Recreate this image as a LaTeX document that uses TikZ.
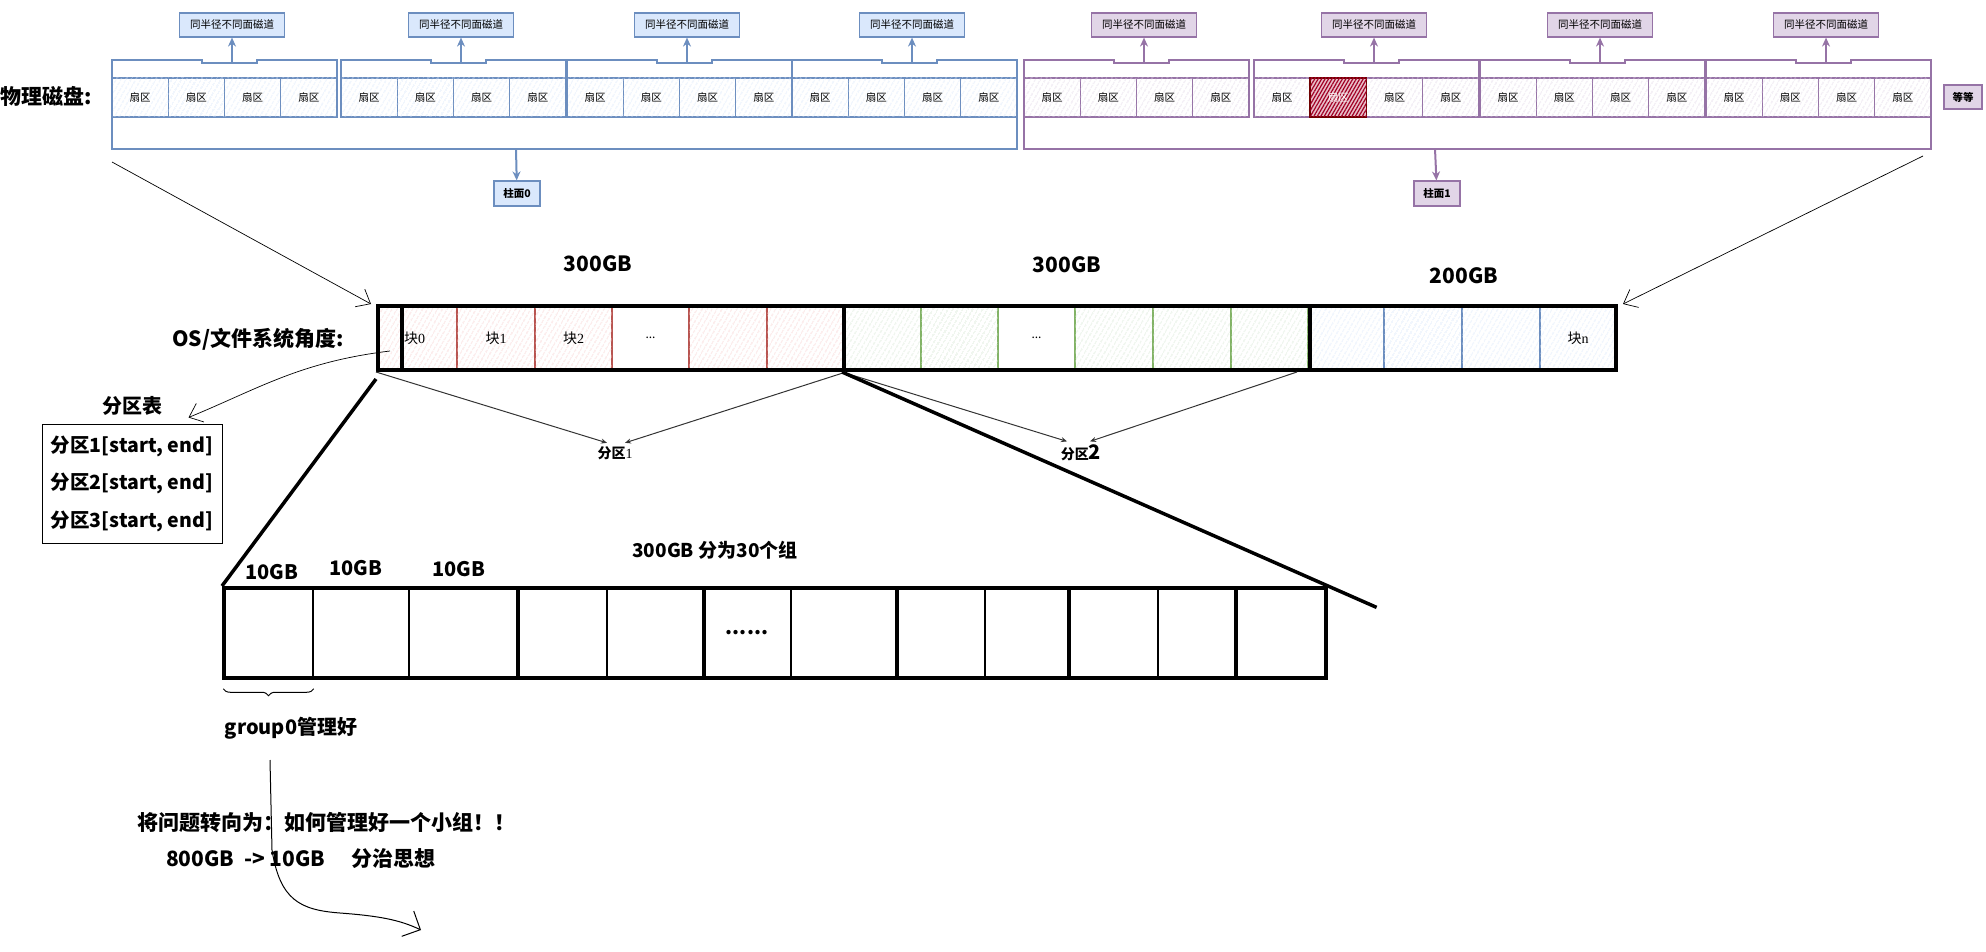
\documentclass[tikz,border=0pt]{standalone}
\usepackage{fontspec}
\setmainfont{Noto Sans CJK SC}
\newfontfamily\serifnum{Liberation Serif}
\usepackage{tikz}
\usetikzlibrary{positioning,arrows.meta,calc,patterns.meta,decorations.pathreplacing}

\definecolor{bluedraw}{HTML}{6C8EBF}
\definecolor{bluefill}{HTML}{DAE8FC}
\definecolor{purpdraw}{HTML}{9673A6}
\definecolor{purpfill}{HTML}{E1D5E7}
\definecolor{reddraw}{HTML}{B85450}
\definecolor{redfill}{HTML}{F8CECC}
\definecolor{grndraw}{HTML}{82B366}
\definecolor{grnfill}{HTML}{D5E8D4}
\definecolor{hotdraw}{HTML}{6F0000}
\definecolor{hotfill}{HTML}{A20025}

\newcommand\fsz[1]{\fontsize{#1}{#1}\selectfont}

\tikzset{
  hatch/.style={fill=white, postaction={pattern={Lines[angle=60,distance=4pt,line width=0.7pt]}, pattern color=#1}},
  sector/.style={draw=#1draw, line width=1.2pt, hatch=#1fill, minimum width=56.25pt,
                 minimum height=39pt, inner sep=0pt, font=\fsz{10.5}},
  hotsec/.style={draw=hotdraw, line width=1.6pt, fill=hotfill!25,
                 postaction={pattern={Lines[angle=60,distance=3pt,line width=1.2pt]}, pattern color=hotfill},
                 minimum width=56.25pt, minimum height=39pt, inner sep=0pt, font=\fsz{10.5}, text=white},
  bracket/.style={draw=#1draw, line width=1.5pt},
  tag/.style={draw=#1draw, fill=#1fill, line width=1.2pt, minimum height=24pt, inner sep=3pt, font=\fsz{10.5}},
  uparr/.style={draw=#1draw, line width=2pt, -{Stealth[length=9pt,width=8pt]}},
  cell/.style={draw=#1draw, line width=1.2pt, hatch=#1fill, minimum height=62pt, inner sep=0pt, font=\fsz{14}},
  pbox/.style={draw=black, line width=4pt, minimum height=64pt, inner sep=0pt},
  big/.style={font=\fsz{20}\bfseries, inner sep=0pt},
  gcell/.style={draw=black, line width=1.5pt, minimum height=90pt, inner sep=0pt},
  barb/.style={line width=0.7pt, -{Straight Barb[length=12pt,width=20pt]}},
  parr/.style={draw=black!80, line width=1pt, -{Stealth[length=6pt,width=5pt]}}
}

\begin{document}
\begin{tikzpicture}[x=1pt, y=-1pt]
  \useasboundingbox (0,0) rectangle (1986,952);

  \node[font=\fsz{21}\bfseries, inner sep=0pt, anchor=west] (disk) at (0,96) {物理磁盘:};

  \foreach \gx [count=\g] in {112,341,567,792}{
    \foreach \k in {1,...,4}
      \node[sector=blue] (bs\g-\k) at ({\gx+56.25*\k-28.125},97.5) {扇区};
    \draw[bracket=blue] (\gx,117) -- (\gx,60) -- (\gx+90,60) -- (\gx+90,63) -- (\gx+145,63)
      -- (\gx+145,60) -- (\gx+225,60) -- (\gx+225,117);
    \coordinate (bn\g) at (\gx+120,63);
    \node[tag=blue, minimum width=105pt] (bt\g) at (\gx+120,25) {同半径不同面磁道};
    \draw[uparr=blue] (bn\g) -- (bt\g);
  }
  \foreach \gx [count=\g] in {1024,1254,1480,1706}{
    \foreach \k in {1,...,4}
      \node[sector=purp] (ps\g-\k) at ({\gx+56.25*\k-28.125},97.5) {扇区};
    \draw[bracket=purp] (\gx,117) -- (\gx,60) -- (\gx+90,60) -- (\gx+90,63) -- (\gx+145,63)
      -- (\gx+145,60) -- (\gx+225,60) -- (\gx+225,117);
    \coordinate (pn\g) at (\gx+120,63);
    \node[tag=purp, minimum width=105pt] (pt\g) at (\gx+120,25) {同半径不同面磁道};
    \draw[uparr=purp] (pn\g) -- (pt\g);
  }
  \node[hotsec] (hot) at (ps2-2) {扇区};
  \node[tag=purp, font=\fsz{10.5}\bfseries, minimum width=38pt] (etc) at (1963,97) {等等};

  \draw[bracket=blue] (112,117) -- (112,149) -- (1017,149) -- (1017,117);
  \coordinate (bcyl) at (516,149);
  \node[tag=blue, font=\fsz{10.5}\bfseries, minimum width=46pt, minimum height=25pt] (cyl0) at (517,193.5) {柱面0};
  \draw[uparr=blue] (bcyl) -- (cyl0);
  \draw[bracket=purp] (1024,117) -- (1024,149) -- (1931,149) -- (1931,117);
  \coordinate (pcyl) at (1435,149);
  \node[tag=purp, font=\fsz{10.5}\bfseries, minimum width=46pt, minimum height=25pt] (cyl1) at (1437,193.5) {柱面1};
  \draw[uparr=purp] (pcyl) -- (cyl1);

  \node[big, font=\fsz{21}\bfseries, anchor=east] (osv) at (344,339) {OS/文件系统角度:};

  \node[cell=red, minimum width=23pt] (ptc) at (389.5,338) {};
  \node[cell=red, minimum width=56pt, text width=50pt, align=left] (r1) at (429,338) {块{\serifnum 0}};
  \foreach \n/\a/\b/\t in {r2/457/535/{块{\serifnum 1}}, r3/535/612/{块{\serifnum 2}}, r4/689/767/{}, r5/767/844/{}}
    \node[cell=red, minimum width={(\b-\a)*1pt}] (\n) at ({(\a+\b)/2},338) {\t};
  \foreach \n/\a/\b in {g1/844/921, g2/921/998, g3/1075/1153, g4/1153/1231, g5/1231/1308}
    \node[cell=grn, minimum width={(\b-\a)*1pt}] (\n) at ({(\a+\b)/2},338) {};
  \foreach \n/\a/\b/\t in {b1/1310/1384/{}, b2/1384/1462/{}, b3/1462/1540/{}, b4/1540/1616/{块{\serifnum n}}}
    \node[cell=blue, minimum width={(\b-\a)*1pt}] (\n) at ({(\a+\b)/2},338) {\t};
  \node[font=\fsz{12}] (rdots) at ($(r3.east)!.5!(r4.west)$) {...};
  \node[font=\fsz{12}] (gdots) at ($(g2.east)!.5!(g3.west)$) {...};

  \node[pbox, minimum width=466pt] (p1) at (611,338) {};
  \node[pbox, minimum width=466pt] (p2) at (1077,338) {};
  \node[pbox, minimum width=306pt] (p3) at (1463,338) {};
  \draw[line width=4pt] (ptc.north east) -- (ptc.south east);

  \node[font=\fsz{21}\bfseries] (gb1) at (598,264) {300GB};
  \node[font=\fsz{21}\bfseries] (gb2) at (1067,265) {300GB};
  \node[font=\fsz{21}\bfseries] (gb3) at (1464,276) {200GB};

  \coordinate (dl) at (112,162);
  \coordinate (dr) at (1923,156);
  \draw[barb] (dl) -- ([xshift=-5pt]p1.north west);
  \draw[barb] (dr) -- ([xshift=5pt]p3.north east);

  \node[big] (ptt) at (132,406) {分区表};
  \node[draw, line width=1pt, font=\fontsize{19.5}{37.5}\selectfont\bfseries, align=left,
        inner xsep=6pt, inner ysep=0pt, minimum width=180pt, minimum height=119pt] (ptab) at (132,483.5)
        {分区1[start, end]\\分区2[start, end]\\分区3[start, end]};
  \coordinate (pts) at (390,351);
  \draw[barb] (pts) .. controls (300,362) and (260,388) .. ([xshift=-34pt,yshift=6pt]ptab.north east);

  \node[font=\fsz{14}\bfseries] (pl1) at (615,453) {分区{\serifnum\mdseries 1}};
  \node[font=\fsz{14}\bfseries] (pl2) at (1081,453) {分区{\fsz{20}2}};
  \draw[parr] (p1.south west) -- ([xshift=-8pt]pl1.north);
  \draw[parr] (p1.south east) -- ([xshift=10pt]pl1.north);
  \draw[parr] (p2.south west) -- ([xshift=-14pt]pl2.north);
  \draw[parr] ([xshift=-15pt]p2.south east) -- ([xshift=9pt]pl2.north);

  \foreach \a/\b [count=\i] in {224/313, 313/409, 409/517, 517/607, 607/703, 703/791,
                                791/896, 896/985, 985/1068, 1068/1158, 1158/1235, 1235/1326}
    \node[gcell, minimum width={(\b-\a)*1pt}] (q\i) at ({(\a+\b)/2},633) {};
  \foreach \i in {3,5,7,9,11}
    \draw[line width=3.5pt] (q\i.north east) -- (q\i.south east);
  \node[draw, line width=4pt, minimum width=1102pt, minimum height=90pt, inner sep=0pt] (lbar) at (775,633) {};

  \draw[line width=3.5pt] ([yshift=-7pt]p1.south west) -- (lbar.north west);
  \draw[line width=3.5pt] (p2.south west) -- ($(p2.south west)!1.1!(lbar.north east)$);

  \node[big] (s1) at (272,572) {10GB};
  \node[big] (s2) at (356,568) {10GB};
  \node[big] (s3) at (459,569) {10GB};
  \node[font=\fsz{19}\bfseries, inner sep=0pt] (grp) at (715,550) {300GB 分为30个组};
  \node[big] (qdots) at (q6) {......};

  \draw[line width=1pt, decorate, decoration={brace, mirror, amplitude=7pt}]
    ([yshift=-10pt]q1.south west) -- ([yshift=-10pt]q1.south east);
  \node[big] (g0) at (291,728) {group0管理好};

  \coordinate (cs) at (270,760);
  \coordinate (ce) at (421,930);
  \draw[line width=1pt, -{Straight Barb[length=14pt,width=28pt]}] (cs) -- (272,850)
    .. controls (280,900) and (300,910) .. (340,913) .. controls (380,916) and (400,920) .. (ce);

  \node[big, font=\fsz{21}\bfseries, anchor=west] (turn) at (137,822) {将问题转向为：如何管理好一个小组！！};
  \node[big, font=\fsz{21}\bfseries, anchor=west] (idea) at (166,859) {800GB\ \ ->\ 10GB\quad\ 分治思想};
\end{tikzpicture}
\end{document}
